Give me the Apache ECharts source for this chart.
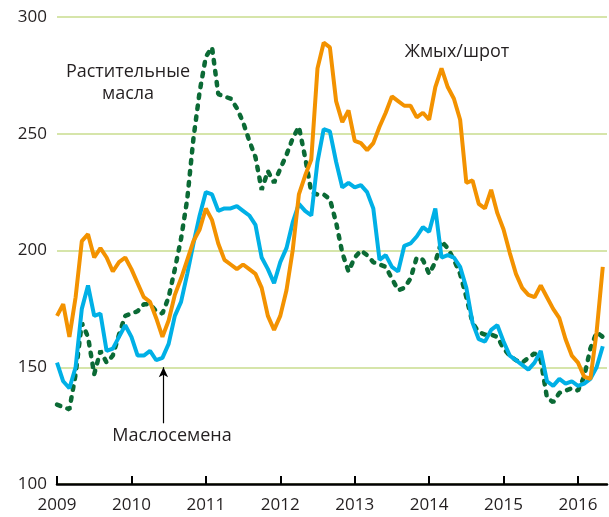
<!DOCTYPE html>
<html>
<head>
<meta charset="utf-8">
<script src="https://cdn.jsdelivr.net/npm/echarts@6/dist/echarts.min.js"></script>
<style>
  html, body { margin: 0; padding: 0; background: #fff; }
  #chart { width: 609px; height: 517px; }
</style>
</head>
<body>
<div id="chart"></div>
<script>
// monthly index values, Jan 2009 .. May 2016
const startYear = 2009
const yearTicks = [2009, 2010, 2011, 2012, 2013, 2014, 2015, 2016]

// Маслосемена
const oilseeds = [
  152, 144, 141, 150, 175, 185, 172, 173, 157, 158, 163, 168,
  163, 155, 155, 157, 153, 154, 160, 172, 178, 190, 203, 215,
  225, 224, 217, 218, 218, 219, 217, 215, 211, 197, 192, 186,
  195, 201, 212, 220, 217, 215, 238, 252, 251, 238, 227, 229,
  227, 228, 225, 218, 196, 198, 193, 191, 202, 203, 206, 210,
  208, 218, 197, 198, 197, 193, 184, 169, 162, 161, 166, 168,
  161, 155, 153, 151, 149, 152, 157, 144, 142, 145, 143, 144,
  142, 143, 145, 150, 159
]

// Растительные масла
const vegOils = [
  134, 133, 132, 147, 169, 163, 147, 157, 152, 155, 164, 172,
  173, 174, 177, 177, 174, 173, 180, 192, 205, 222, 248, 268,
  283, 287, 267, 266, 265, 261, 255, 247, 240, 226, 234, 229,
  235, 241, 248, 253, 240, 225, 224, 224, 222, 212, 199, 191,
  197, 200, 198, 195, 194, 193, 188, 183, 184, 188, 197, 196,
  190, 195, 204, 201, 196, 190, 180, 169, 165, 164, 164, 163,
  158, 155, 153, 152, 154, 156, 153, 137, 135, 139, 140, 141,
  140, 146, 158, 165, 163
]

// Жмых/шрот
const meals = [
  172, 177, 163, 180, 204, 207, 197, 201, 197, 191, 195, 197,
  192, 186, 180, 178, 171, 163, 170, 181, 188, 196, 204, 209,
  218, 213, 203, 196, 194, 192, 194, 192, 190, 184, 172, 166,
  172, 183, 200, 224, 232, 239, 278, 289, 287, 264, 255, 260,
  247, 246, 243, 246, 253, 259, 266, 264, 262, 262, 257, 259,
  256, 270, 278, 270, 265, 256, 229, 230, 220, 218, 226, 216,
  209, 199, 190, 184, 181, 180, 185, 180, 175, 171, 162, 155,
  152, 146, 145, 165, 193
]

const toPoints = arr => arr.map((v, i) => [startYear + i / 12, v])

const chart = echarts.init(document.getElementById('chart'))
const font = '"Open Sans", "Noto Sans", sans-serif'
const textColor = '#231f20'

// free text labels, centred on x/y
const note = (text, x, y) => ({
  type: 'text', x: x, y: y,
  style: {
    text: text, fill: textColor, font: '18px ' + font,
    align: 'center', verticalAlign: 'middle', lineHeight: 22
  }
})

chart.setOption({
  animation: false,
  grid: { left: 57, right: 2, top: 17, bottom: 33 },
  xAxis: {
    type: 'value',
    min: 2009,
    max: 2016.39,
    interval: 1,
    axisLine: { show: true, onZero: false, lineStyle: { color: '#000', width: 2.5 } },
    axisTick: { show: true, inside: true, length: 8, lineStyle: { color: '#000', width: 2 } },
    axisLabel: {
      color: textColor, fontSize: 17, fontFamily: font, margin: 13,
      showMaxLabel: false,
      formatter: v => (yearTicks.includes(Math.round(v)) ? String(Math.round(v)) : '')
    },
    splitLine: { show: false }
  },
  yAxis: {
    type: 'value',
    min: 100,
    max: 300,
    interval: 50,
    axisLine: { show: false },
    axisTick: { show: false },
    axisLabel: { color: textColor, fontSize: 17, fontFamily: font, margin: 10 },
    splitLine: { lineStyle: { color: '#c8dc8e', width: 1.5 } }
  },
  series: [
    {
      name: 'Растительные масла',
      type: 'line',
      data: toPoints(vegOils),
      symbol: 'none',
      lineStyle: { color: '#0b6a35', width: 4.5, type: [3.5, 7.5], cap: 'round' }
    },
    {
      name: 'Маслосемена',
      type: 'line',
      data: toPoints(oilseeds),
      symbol: 'none',
      lineStyle: { color: '#00b0e6', width: 4 },
      markLine: {
        silent: true,
        symbol: ['none', 'arrow'],
        symbolSize: [7, 10],
        label: { show: false },
        lineStyle: { color: '#000', width: 1.2, type: 'solid' },
        data: [[{ coord: [2010.43, 126] }, { coord: [2010.43, 150] }]]
      }
    },
    {
      name: 'Жмых/шрот',
      type: 'line',
      data: toPoints(meals),
      symbol: 'none',
      lineStyle: { color: '#f39200', width: 4 }
    }
  ],
  graphic: [
    note('Растительные\nмасла', 128, 83),
    note('Жмых/шрот', 457, 52),
    note('Маслосемена', 172, 436)
  ]
})
</script>
</body>
</html>
